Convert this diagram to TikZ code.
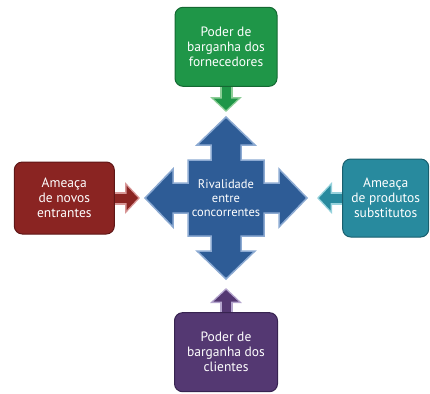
\documentclass[tikz,border=0pt]{standalone}
\usepackage{fontspec}
\setmainfont{PT Sans}
\usetikzlibrary{arrows.meta, positioning, calc, backgrounds}

\definecolor{verde}{RGB}{31,150,72}
\definecolor{verdeesc}{RGB}{20,105,50}
\definecolor{verdeclaro}{RGB}{140,205,150}
\definecolor{vermelho}{RGB}{138,36,34}
\definecolor{vermelhoesc}{RGB}{95,22,22}
\definecolor{vermelhoclaro}{RGB}{215,150,150}
\definecolor{petroleo}{RGB}{40,138,158}
\definecolor{petroleoesc}{RGB}{25,95,110}
\definecolor{petroleoclaro}{RGB}{150,210,220}
\definecolor{roxo}{RGB}{84,56,114}
\definecolor{roxoesc}{RGB}{55,35,80}
\definecolor{roxoclaro}{RGB}{180,165,205}
\definecolor{azul}{RGB}{46,92,150}
\definecolor{azulclaro}{RGB}{140,170,210}

% seta em bloco: de, para, cor da borda, cor de dentro, folga
\newcommand\setabloco[5]{%
  \draw[line width=13pt, draw=#3, shorten >=#5, -{Triangle[width=31pt,length=15pt]}] (#1) -- (#2);
  \draw[line width=9pt, draw=#4, shorten >=#5+2pt, -{Triangle[width=24pt,length=11.5pt]}] (#1) -- (#2);
}

\begin{document}
\begin{tikzpicture}[x=1pt, y=-1pt, font=\fontsize{13.5}{15}\selectfont,
  caixa/.style={rectangle, rounded corners=8pt, line width=1pt, text=white, align=center, inner sep=2pt},
  cruz/.style={fill=azul, draw=azulclaro, line width=1.5pt, line join=miter}]

\useasboundingbox (0,0) rectangle (430,393);

\node[minimum width=76pt, minimum height=76pt, inner sep=0pt, text=white, align=center, font=\fontsize{12.5}{14}\selectfont] (rival) at (226,198) {Rivalidade\\entre\\concorrentes};

\node[caixa, fill=verde, draw=verdeesc, minimum width=102pt, minimum height=79pt, above=73pt of rival] (forn) {Poder de\\barganha dos\\fornecedores};
\node[caixa, fill=roxo, draw=roxoesc, minimum width=103pt, minimum height=79pt, below=76pt of rival] (cli) {Poder de\\barganha dos\\clientes};
\node[caixa, fill=vermelho, draw=vermelhoesc, minimum width=100pt, minimum height=72pt, left=73pt of rival] (novos) {Ameaça\\de novos\\entrantes};
\node[caixa, fill=petroleo, draw=petroleoesc, minimum width=86pt, minimum height=78pt, right=78pt of rival] (subst) {Ameaça\\de produtos\\substitutos};

\begin{scope}[on background layer]
\draw[cruz] ($(rival.center)+(0,-81)$) coordinate (pn)
  -- ++(29,28) -- ++(-14,0) -- ++(0,15) -- ++(23,0) -- ++(0,23) -- ++(15,0) -- ++(0,-14)
  -- ++(28,29) coordinate (pl)
  -- ++(-28,29) -- ++(0,-14) -- ++(-15,0) -- ++(0,23) -- ++(-23,0) -- ++(0,15) -- ++(14,0)
  -- ++(-29,28) coordinate (ps)
  -- ++(-29,-28) -- ++(14,0) -- ++(0,-15) -- ++(-23,0) -- ++(0,-23) -- ++(-15,0) -- ++(0,14)
  -- ++(-28,-29) coordinate (po)
  -- ++(28,-29) -- ++(0,14) -- ++(15,0) -- ++(0,-23) -- ++(23,0) -- ++(0,-15) -- ++(-14,0)
  -- cycle;

\setabloco{forn.south}{pn}{verdeclaro}{verde}{5pt}
\setabloco{novos.east}{po}{vermelhoclaro}{vermelho}{5pt}
\setabloco{subst.west}{pl}{petroleoclaro}{petroleo}{10pt}
\setabloco{cli.north}{ps}{roxoclaro}{roxo}{9pt}
\end{scope}
\end{tikzpicture}
\end{document}
